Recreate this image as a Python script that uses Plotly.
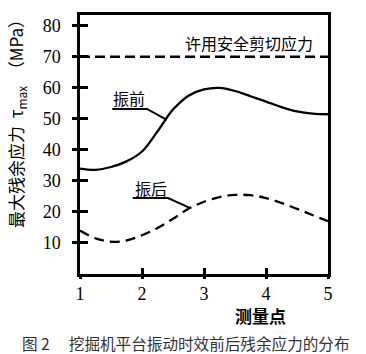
import plotly.graph_objects as go

# data
x_points = [1, 1.25, 1.5, 1.75, 2, 2.25, 2.5, 2.75, 3, 3.25, 3.5, 3.75, 4, 4.25, 4.5, 4.75, 5]
before_vals = [34, 33.6, 34.5, 36.3, 39.5, 46, 53, 57.5, 59.5, 60, 59, 57.3, 55.6, 53.8, 52.4, 51.7, 51.5]
after_vals = [14, 11.5, 10.4, 10.8, 12.5, 14.8, 17.8, 21, 23.3, 24.8, 25.5, 25.4, 24.5, 22.9, 21, 19, 17]
limit_x = [1, 5]
limit_vals = [70, 70]
x_ticks = [1, 2, 3, 4, 5]
y_ticks = [10, 20, 30, 40, 50, 60, 70, 80]

X_RANGE = [1, 5]
Y_RANGE = [0, 83.5]
serif = "Times New Roman, Liberation Serif, DejaVu Serif, serif"
cjk = "Noto Sans CJK SC"

fig = go.Figure()
fig.add_trace(go.Scatter(x=x_points, y=before_vals, mode="lines", line=dict(color="black", width=2.3, shape="spline"), showlegend=False))
fig.add_trace(go.Scatter(x=x_points, y=after_vals, mode="lines", line=dict(color="black", width=2.3, shape="spline", dash="10px,6px"), showlegend=False))
fig.add_trace(go.Scatter(x=limit_x, y=limit_vals, mode="lines", line=dict(color="black", width=2.5, dash="10px,5px"), showlegend=False, xaxis="x2", yaxis="y2"))

fig.update_layout(
    width=366, height=354,
    margin=dict(l=80, r=38, t=15, b=80),
    paper_bgcolor="white", plot_bgcolor="white",
    xaxis=dict(range=X_RANGE, tickvals=x_ticks, ticktext=[str(v) for v in x_ticks],
               showgrid=False, zeroline=False, showline=True, mirror=True, linecolor="black", linewidth=2.5,
               ticks="outside", ticklen=2, tickwidth=2.5, tickcolor="black",
               tickfont=dict(family=serif, size=18, color="black")),
    yaxis=dict(range=Y_RANGE, tickvals=y_ticks, ticktext=[str(v) for v in y_ticks],
               showgrid=False, zeroline=False, showline=True, mirror=True, linecolor="black", linewidth=2.5,
               ticks="outside", ticklen=5, tickwidth=2.5, tickcolor="black", ticklabelstandoff=8,
               tickfont=dict(family=serif, size=18, color="black")),
    xaxis2=dict(range=X_RANGE, overlaying="x", anchor="y2", tickvals=x_ticks, showticklabels=False,
                showgrid=False, zeroline=False, showline=False,
                ticks="inside", ticklen=6, tickwidth=2.5, tickcolor="black"),
    yaxis2=dict(range=Y_RANGE, overlaying="y", anchor="x2", tickvals=y_ticks, showticklabels=False,
                showgrid=False, zeroline=False, showline=False,
                ticks="inside", ticklen=8, tickwidth=2.5, tickcolor="black"),
)

# leader lines for curve labels
fig.add_shape(type="path", path="M 1.52,53.2 L 2.08,53.2 L 2.4,49.7", xref="x", yref="y", line=dict(color="black", width=2))
fig.add_shape(type="path", path="M 1.85,24.5 L 2.42,24.5 L 2.77,21.3", xref="x", yref="y", line=dict(color="black", width=2))

fig.add_annotation(x=3.73, y=74.5, xref="x", yref="y", text="许用安全剪切应力", showarrow=False,
                   xanchor="center", yanchor="middle",
                   font=dict(family=cjk, size=16, color="black"))
fig.add_annotation(x=1.79, y=56.8, xref="x", yref="y", text="振前", showarrow=False,
                   xanchor="center", yanchor="middle",
                   font=dict(family=cjk, size=16, color="black"))
fig.add_annotation(x=2.14, y=27.7, xref="x", yref="y", text="振后", showarrow=False,
                   xanchor="center", yanchor="middle",
                   font=dict(family=cjk, size=16, color="black"))
fig.add_annotation(x=0.726, y=-0.16, xref="paper", yref="paper", text="<b>测量点</b>", showarrow=False,
                   xanchor="center", yanchor="middle",
                   font=dict(family=cjk, size=17, color="black"))
fig.add_annotation(x=-0.254, y=0.595, xref="paper", yref="paper", textangle=-90,
                   xanchor="center", yanchor="middle",
                   text="最大残余应力  τ<sub>max</sub>  （MPa）", showarrow=False,
                   font=dict(family=cjk, size=17, color="black"))
fig.add_annotation(x=-0.242, y=-0.266, xref="paper", yref="paper", xanchor="left", yanchor="middle",
                   text="图 2\u3000 挖掘机平台振动时效前后残余应力的分布", showarrow=False,
                   font=dict(family=cjk, size=15.6, color="#333333"))

fig.write_html("out.html")
